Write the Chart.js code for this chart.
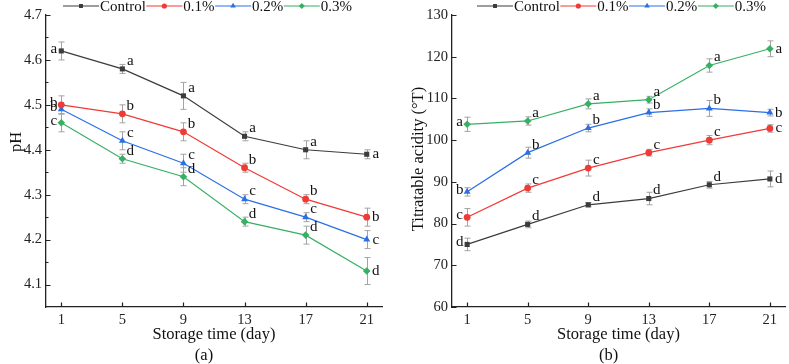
<!DOCTYPE html>
<html>
<head>
<meta charset="utf-8">
<script src="https://cdn.jsdelivr.net/npm/chart.js@4.4.1/dist/chart.umd.min.js"></script>
<style>
  html, body { margin: 0; padding: 0; background: #fff; }
  .panel { position: absolute; top: 0; height: 364px; }
  #panelA { left: 0; width: 395px; }
  #panelB { left: 395px; width: 394px; }
</style>
</head>
<body>
<div class="panel" id="panelA"><canvas id="chartA"></canvas></div>
<div class="panel" id="panelB"><canvas id="chartB"></canvas></div>
<script>
// ----------------------------------------------------------
// data
const days = [1, 5, 9, 13, 17, 21];
const seriesNames = ["Control", "0.1%", "0.2%", "0.3%"];

// (a) pH
const phControl = [4.62, 4.58, 4.52, 4.43, 4.40, 4.39];
const ph01 = [4.50, 4.48, 4.44, 4.36, 4.29, 4.25];
const ph02 = [4.49, 4.42, 4.37, 4.29, 4.25, 4.20];
const ph03 = [4.46, 4.38, 4.34, 4.24, 4.21, 4.13];
const phErrControl = [0.02, 0.01, 0.03, 0.01, 0.02, 0.01];
const phErr01 = [0.02, 0.02, 0.02, 0.01, 0.01, 0.02];
const phErr02 = [0.01, 0.02, 0.02, 0.01, 0.01, 0.02];
const phErr03 = [0.02, 0.01, 0.02, 0.01, 0.02, 0.03];
const phLetControl = ["a", "a", "a", "a", "a", "a"];
const phLet01 = ["b", "b", "b", "b", "b", "b"];
const phLet02 = ["b", "c", "c", "c", "c", "c"];
const phLet03 = ["c", "d", "d", "d", "d", "d"];
const phTicks = [4.1, 4.2, 4.3, 4.4, 4.5, 4.6, 4.7];
const phMinorTicks = [4.15, 4.25, 4.35, 4.45, 4.55, 4.65];

// (b) titratable acidity
const taControl = [75.0, 79.8, 84.5, 86.0, 89.3, 90.7];
const ta01 = [81.5, 88.5, 93.3, 97.0, 100.0, 102.8];
const ta02 = [87.6, 97.0, 102.9, 106.6, 107.6, 106.6];
const ta03 = [103.8, 104.6, 108.7, 109.7, 117.9, 121.9];
const taErrControl = [1.5, 0.8, 0.5, 1.5, 0.8, 1.9];
const taErr01 = [2.1, 1.0, 1.9, 0.8, 1.1, 0.9];
const taErr02 = [1.0, 1.3, 0.9, 0.9, 1.9, 0.8];
const taErr03 = [1.7, 1.0, 1.2, 0.8, 1.6, 1.9];
const taLetControl = ["d", "d", "d", "d", "d", "d"];
const taLet01 = ["c", "c", "c", "c", "c", "c"];
const taLet02 = ["b", "b", "b", "b", "b", "b"];
const taLet03 = ["a", "a", "a", "a", "a", "a"];
const taTicks = [60, 70, 80, 90, 100, 110, 120, 130];

// ----------------------------------------------------------
// looks
const serif = "'Liberation Serif', 'Times New Roman', serif";
const axisColor = "#222";
const seriesColors = ["#3c3c3c", "#f03a36", "#2b6fe6", "#37b064"];
const seriesMarkers = ["rect", "circle", "triangle", "rectRot"];
const markerRadius = [3.6, 3.4, 4, 3.8];

Chart.defaults.font.family = serif;
Chart.defaults.color = axisColor;

// ----------------------------------------------------------
// draws inward ticks, error bars, letters, legend, y title and caption
const decorPlugin = {
  id: "decor",
  beforeDatasetsDraw(chart) {
    const ctx = chart.ctx;
    const cfg = chart.options.plugins.decor;
    const xs = chart.scales.x;
    const ys = chart.scales.y;
    ctx.save();
    ctx.strokeStyle = "#a3a3a3";
    ctx.lineWidth = 1;
    cfg.errors.forEach((errs, si) => {
      const vals = chart.data.datasets[si].data;
      errs.forEach((e, i) => {
        const px = Math.round(xs.getPixelForValue(vals[i].x)) + 0.5;
        const top = ys.getPixelForValue(vals[i].y + e);
        const bot = ys.getPixelForValue(vals[i].y - e);
        ctx.beginPath();
        ctx.moveTo(px, top);
        ctx.lineTo(px, bot);
        ctx.moveTo(px - 3, top);
        ctx.lineTo(px + 3, top);
        ctx.moveTo(px - 3, bot);
        ctx.lineTo(px + 3, bot);
        ctx.stroke();
      });
    });
    ctx.restore();
  },
  afterDraw(chart) {
    const ctx = chart.ctx;
    const cfg = chart.options.plugins.decor;
    const xs = chart.scales.x;
    const ys = chart.scales.y;
    const area = chart.chartArea;
    ctx.save();

    // inward ticks
    ctx.strokeStyle = axisColor;
    ctx.lineWidth = 1.2;
    ctx.beginPath();
    days.forEach((d) => {
      const px = Math.round(xs.getPixelForValue(d)) + 0.5;
      ctx.moveTo(px, area.bottom);
      ctx.lineTo(px, area.bottom - 4.5);
    });
    cfg.yTicks.forEach((v) => {
      const py = Math.round(ys.getPixelForValue(v)) + 0.5;
      ctx.moveTo(area.left, py);
      ctx.lineTo(area.left + 4.5, py);
    });
    cfg.yMinor.forEach((v) => {
      const py = Math.round(ys.getPixelForValue(v)) + 0.5;
      ctx.moveTo(area.left, py);
      ctx.lineTo(area.left + 2.5, py);
    });
    ctx.stroke();

    // significance letters
    ctx.fillStyle = "#111";
    ctx.font = "15px " + serif;
    ctx.textAlign = "center";
    ctx.textBaseline = "middle";
    cfg.letters.forEach((lets, si) => {
      const vals = chart.data.datasets[si].data;
      lets.forEach((l, i) => {
        const px = xs.getPixelForValue(vals[i].x);
        const py = ys.getPixelForValue(vals[i].y);
        if (i === 0) ctx.fillText(l, px - 7.5, py - 2);
        else if (i === lets.length - 1) ctx.fillText(l, px + 9, py);
        else ctx.fillText(l, px + 8, py - 8);
      });
    });

    // legend: line + marker + name
    let lx = cfg.legendX;
    const ly = 6;
    ctx.font = "15px " + serif;
    ctx.textAlign = "left";
    ctx.textBaseline = "middle";
    seriesNames.forEach((name, si) => {
      ctx.strokeStyle = seriesColors[si];
      ctx.fillStyle = seriesColors[si];
      ctx.lineWidth = 1.2;
      ctx.beginPath();
      ctx.moveTo(lx, ly);
      ctx.lineTo(lx + 36, ly);
      ctx.stroke();
      Chart.helpers.drawPoint(ctx, {
        pointStyle: seriesMarkers[si],
        radius: markerRadius[si] - 0.8,
        rotation: 0,
        borderWidth: 0,
      }, lx + 18, ly);
      ctx.fillStyle = "#111";
      ctx.fillText(name, lx + 37, ly + 1.5);
      lx += 37 + ctx.measureText(name).width + 0.5;
    });

    // y title
    ctx.save();
    ctx.translate(cfg.yTitleX, cfg.yTitleY);
    ctx.rotate(-Math.PI / 2);
    ctx.textAlign = "center";
    ctx.font = "16.5px " + serif;
    ctx.fillStyle = "#111";
    ctx.fillText(cfg.yTitle, 0, 0);
    ctx.restore();

    // caption
    ctx.textAlign = "center";
    ctx.font = "16.5px " + serif;
    ctx.fillStyle = "#111";
    ctx.fillText(cfg.caption, (area.left + area.right) / 2 - 10, 356);
    ctx.restore();
  },
};

// ----------------------------------------------------------
function toPoints(values) {
  return days.map((d, i) => ({ x: d, y: values[i] }));
}

// ----------------------------------------------------------
function createPanel(canvasId, opts) {
  const datasets = opts.series.map((vals, si) => ({
    label: seriesNames[si],
    data: toPoints(vals),
    borderColor: seriesColors[si],
    backgroundColor: seriesColors[si],
    borderWidth: 1.2,
    pointStyle: seriesMarkers[si],
    pointRadius: markerRadius[si],
    pointBorderWidth: 0,
    tension: 0,
  }));

  return new Chart(document.getElementById(canvasId).getContext("2d"), {
    type: "line",
    data: { datasets },
    options: {
      responsive: true,
      maintainAspectRatio: false,
      animation: false,
      layout: { padding: { top: 15, right: opts.padRight, left: 0, bottom: 0 } },
      plugins: {
        legend: { display: false },
        tooltip: { enabled: false },
        decor: {
          errors: opts.errors,
          letters: opts.letters,
          yTicks: opts.yTicks,
          yMinor: opts.yMinor,
          legendX: opts.legendX,
          yTitle: opts.yTitle,
          yTitleX: opts.yTitleX,
          yTitleY: opts.yTitleY,
          caption: opts.caption,
        },
      },
      scales: {
        x: {
          type: "linear",
          min: 0,
          max: 22,
          afterBuildTicks: (s) => { s.ticks = days.map((v) => ({ value: v })); },
          afterFit: (s) => { s.height = 57; },
          grid: { display: false, drawTicks: false },
          border: { color: axisColor, width: 1.3 },
          ticks: {
            font: { size: 14.5 },
            color: axisColor,
            padding: 4,
            maxRotation: 0,
            autoSkip: false,
            callback: (v) => String(v),
          },
          title: {
            display: true,
            text: "Storage time (day)",
            font: { size: 16.5 },
            color: "#111",
            padding: { top: 0, bottom: 19 },
          },
        },
        y: {
          min: opts.yMin,
          max: opts.yMax,
          afterBuildTicks: (s) => { s.ticks = opts.yTicks.map((v) => ({ value: v })); },
          afterFit: (s) => { s.width = opts.yWidth; },
          grid: { display: false, drawTicks: false },
          border: { color: axisColor, width: 1.3 },
          ticks: {
            font: { size: 14.5 },
            color: axisColor,
            padding: 4,
            callback: opts.yFormat,
          },
        },
      },
    },
    plugins: [decorPlugin],
  });
}

// ----------------------------------------------------------
window.addEventListener("load", onLoad);

function onLoad() {
  createPanel("chartA", {
    series: [phControl, ph01, ph02, ph03],
    errors: [phErrControl, phErr01, phErr02, phErr03],
    letters: [phLetControl, phLet01, phLet02, phLet03],
    yMin: 4.05,
    yMax: 4.7,
    yTicks: phTicks,
    yMinor: phMinorTicks,
    yFormat: (v) => v.toFixed(1),
    yWidth: 46,
    padRight: 13,
    legendX: 63,
    yTitle: "pH",
    yTitleX: 17,
    yTitleY: 142,
    caption: "(a)",
  });

  createPanel("chartB", {
    series: [taControl, ta01, ta02, ta03],
    errors: [taErrControl, taErr01, taErr02, taErr03],
    letters: [taLetControl, taLet01, taLet02, taLet03],
    yMin: 60,
    yMax: 130,
    yTicks: taTicks,
    yMinor: [],
    yFormat: (v) => String(v),
    yWidth: 57,
    padRight: 2,
    legendX: 82,
    yTitle: "Titratable acidity (\u00B0T)",
    yTitleX: 24,
    yTitleY: 159,
    caption: "(b)",
  });
}
</script>
</body>
</html>
